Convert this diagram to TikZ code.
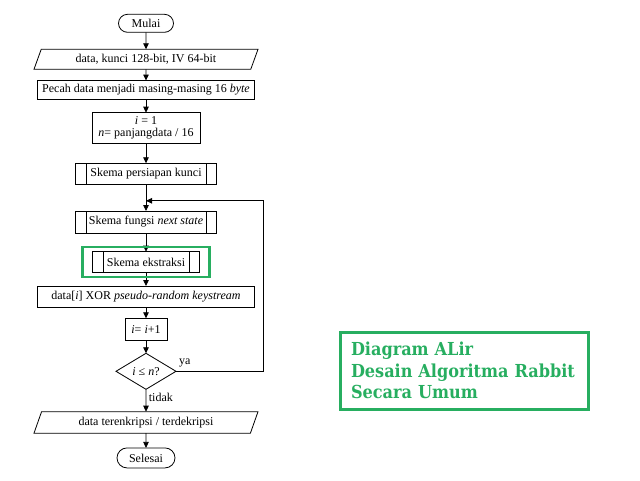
\documentclass[tikz,border=0pt]{standalone}
\usepackage{fontspec}
\setmainfont{Liberation Serif}
\newfontfamily\judulfont{DejaVu Serif Condensed}
\usetikzlibrary{shapes, arrows.meta, positioning, fit}
\definecolor{hijau}{RGB}{39,174,96}
\tikzset{
	every node/.style={font=\fontsize{12}{12}\selectfont},
	garis/.style={line width=0.8pt},
	panah/.style={garis, -{Triangle[length=6pt,width=5.5pt]}},
	proses/.style={draw, garis, outer sep=0pt, minimum height=19pt, inner sep=2pt, align=center},
	subproses/.style={proses,
		path picture={\draw[garis]
			([xshift=10.5pt]path picture bounding box.north west) -- ([xshift=10.5pt]path picture bounding box.south west)
			([xshift=-10.5pt]path picture bounding box.north east) -- ([xshift=-10.5pt]path picture bounding box.south east);}},
	masukan/.style={draw, garis, outer sep=0pt, trapezium, trapezium left angle=63, trapezium right angle=117,
		trapezium stretches body, minimum height=20pt, inner sep=2pt},
	terminal/.style={draw, garis, outer sep=0pt, rounded rectangle, minimum height=18pt, inner sep=2pt},
	keputusan/.style={draw, garis, outer sep=0pt, diamond, minimum width=60pt, minimum height=36pt, inner sep=0pt}
}
\begin{document}
\begin{tikzpicture}[x=1pt, y=1pt]
	\useasboundingbox (0,0) rectangle (640,-480);
	% flowchart blocks
	\node[terminal, minimum width=59pt] (mulai) at (146,-23.3) {Mulai};
	\node[masukan, minimum width=224pt, below=17pt of mulai] (data) {data, kunci 128-bit, IV 64-bit};
	\node[proses, minimum width=217pt, below=11.2pt of data] (pecah) {Pecah data menjadi masing-masing 16 \textit{byte}};
	\node[proses, minimum width=108pt, minimum height=31pt, below=13.2pt of pecah] (inisial) {\textit{i} = 1\\\textit{n}= panjangdata / 16};
	\node[subproses, minimum width=141pt, minimum height=21pt, below=19.6pt of inisial] (persiapan) {Skema persiapan kunci};
	\node[subproses, minimum width=141pt, minimum height=22pt, below=26.7pt of persiapan] (nextstate) {Skema fungsi \textit{next state}};
	\node[subproses, minimum width=107pt, minimum height=21pt, below=18.7pt of nextstate] (ekstraksi) {Skema ekstraksi};
	\node[proses, minimum width=217pt, minimum height=21pt, below=13.3pt of ekstraksi] (xor) {data[\textit{i}] XOR \textit{pseudo-random keystream}};
	\node[proses, minimum width=42pt, minimum height=22pt, below=11.3pt of xor] (tambah) {\textit{i}= \textit{i}+1};
	\node[keputusan, below=13pt of tambah] (cek) {\textit{i} ≤ \textit{n}?};
	\node[masukan, minimum width=224pt, minimum height=21.5pt, below=22.4pt of cek] (hasil) {data terenkripsi / terdekripsi};
	\node[terminal, minimum width=62pt, minimum height=20pt, below=14.7pt of hasil] (selesai) {Selesai};
	\coordinate[below=16.5pt of persiapan] (gabung);
	\coordinate[right=87pt of cek.east] (kanan);
	
	% Arrows
	\draw[panah] (mulai) -- (data);
	\draw[panah] (data) -- (pecah);
	\draw[panah] (pecah) -- (inisial);
	\draw[panah] (inisial) -- (persiapan);
	\draw[garis] (persiapan) -- (gabung);
	\draw[panah] (gabung) -- (nextstate);
	\draw[panah] (nextstate) -- (ekstraksi);
	\draw[panah] (ekstraksi) -- (xor);
	\draw[panah] (xor) -- (tambah);
	\draw[panah] (tambah) -- (cek);
	\draw[panah] (cek.east) -- node[pos=0.1, above] {ya} (kanan) |- (gabung);
	\draw[panah] (cek) -- node[right, pos=0.35, inner sep=2.5pt] {tidak} (hasil);
	\draw[panah] (hasil) -- (selesai);
	
	% highlight and title
	\node[draw=hijau, line width=2.5pt, fit=(ekstraksi), inner xsep=10pt, inner ysep=4.5pt] (sorot) {};
	\node[draw=hijau, line width=3pt, text=hijau, text width=226pt, inner xsep=11pt, minimum height=77pt,
		align=left, font=\judulfont\bfseries\fontsize{17.9}{21.5}\selectfont] (judul) at (464,-370.5)
		{Diagram ALir\\Desain Algoritma Rabbit\\Secara Umum};
\end{tikzpicture}
\end{document}
